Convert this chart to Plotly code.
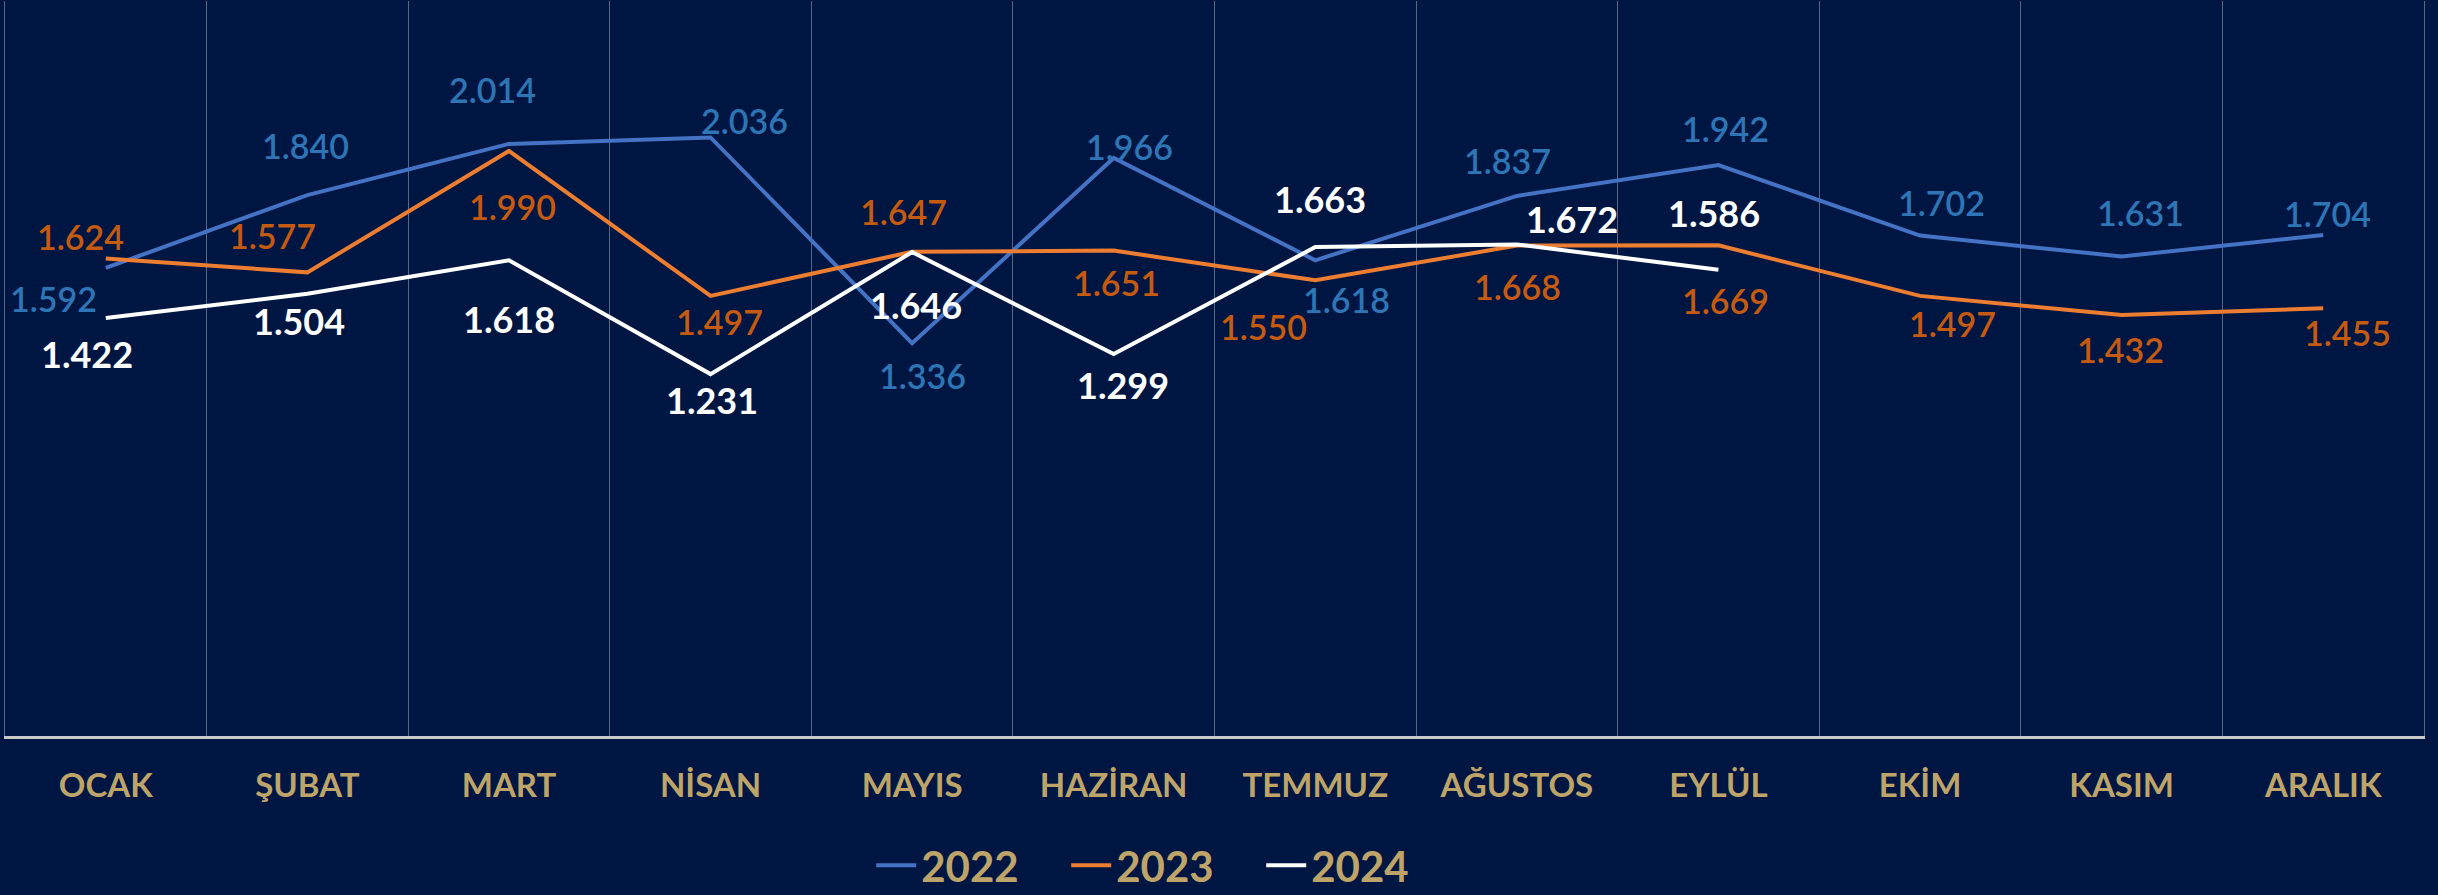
import plotly.graph_objects as go

months = ["OCAK", "ŞUBAT", "MART", "NİSAN", "MAYIS", "HAZİRAN",
          "TEMMUZ", "AĞUSTOS", "EYLÜL", "EKİM", "KASIM", "ARALIK"]
y2022 = [1.592, 1.840, 2.014, 2.036, 1.336, 1.966, 1.618, 1.837, 1.942, 1.702, 1.631, 1.704]
y2023 = [1.624, 1.577, 1.990, 1.497, 1.647, 1.651, 1.550, 1.668, 1.669, 1.497, 1.432, 1.455]
y2024 = [1.422, 1.504, 1.618, 1.231, 1.646, 1.299, 1.663, 1.672, 1.586]

# label offsets (pixels, dx right, dy down) relative to each point
off2022 = [(-52, 31), (-2, -50), (-16, -54), (34, -17), (10, 32), (16, -12),
           (31, 39), (-9, -35), (7, -37), (21, -33), (19, -44), (4, -22)]
off2023 = [(-25, -22), (-35, -37), (4, 56), (9, 26), (-9, -40), (3, 32),
           (-52, 46), (1, 41), (7, 55), (32, 28), (-1, 35), (24, 24)]
off2024 = [(-19, 36), (-8, 27), (0, 59), (1, 26), (4, 53), (9, 31),
           (5, -48), (55, -25), (-4, -57)]

BG = "#001642"
TAN = "#BFA46A"
GRID = "rgba(255,255,255,0.35)"
FONT = "Lato"

series = [
    ("2022", y2022, "#4472C4", "#2E75B6", False, off2022),
    ("2023", y2023, "#ED7D31", "#C55A11", False, off2023),
    ("2024", y2024, "#FFFFFF", "#FFFFFF", True, off2024),
]

fig = go.Figure()
annotations = []
for name, vals, lc, tc, bold, offs in series:
    xs = months[:len(vals)]
    fig.add_trace(go.Scatter(
        x=xs, y=vals, mode="lines", name=name,
        line=dict(color=lc, width=4), hoverinfo="skip"))
    for x, v, (dx, dy) in zip(xs, vals, offs):
        annotations.append(dict(
            x=x, y=v, xref="x", yref="y",
            text=f"{v:.3f}", showarrow=False,
            xanchor="center", yanchor="middle",
            xshift=dx, yshift=-dy,
            font=dict(family=FONT, size=36 if bold else 34, color=tc,
                      weight="bold" if bold else 600)))

fig.update_layout(
    width=2438, height=895,
    margin=dict(l=5, r=14, t=1, b=159, autoexpand=False),
    paper_bgcolor=BG, plot_bgcolor=BG,
    annotations=annotations,
    showlegend=True,
    legend=dict(orientation="h", x=0.479, xanchor="center", y=-0.176, yanchor="middle",
                font=dict(family=FONT, size=42, color=TAN, weight="bold"),
                bgcolor="rgba(0,0,0,0)", itemwidth=40, traceorder="normal",
                entrywidth=140, entrywidthmode="pixels"),
    xaxis=dict(type="category", categoryorder="array", categoryarray=months,
               tickson="boundaries", showgrid=True, gridcolor=GRID,
               gridwidth=1, ticks="", showline=True, linecolor="#C8C8C8", linewidth=3,
               tickfont=dict(family=FONT, size=33, color=TAN, weight="bold"),
               ticklabelstandoff=18, range=[-0.5, 11.5], fixedrange=True,
               automargin=False),
    yaxis=dict(range=[0, 2.5], showgrid=False, zeroline=False, showticklabels=False,
               showline=True, mirror=True, linecolor=GRID, linewidth=1,
               fixedrange=True, automargin=False),
)

fig.write_html("out.html")
